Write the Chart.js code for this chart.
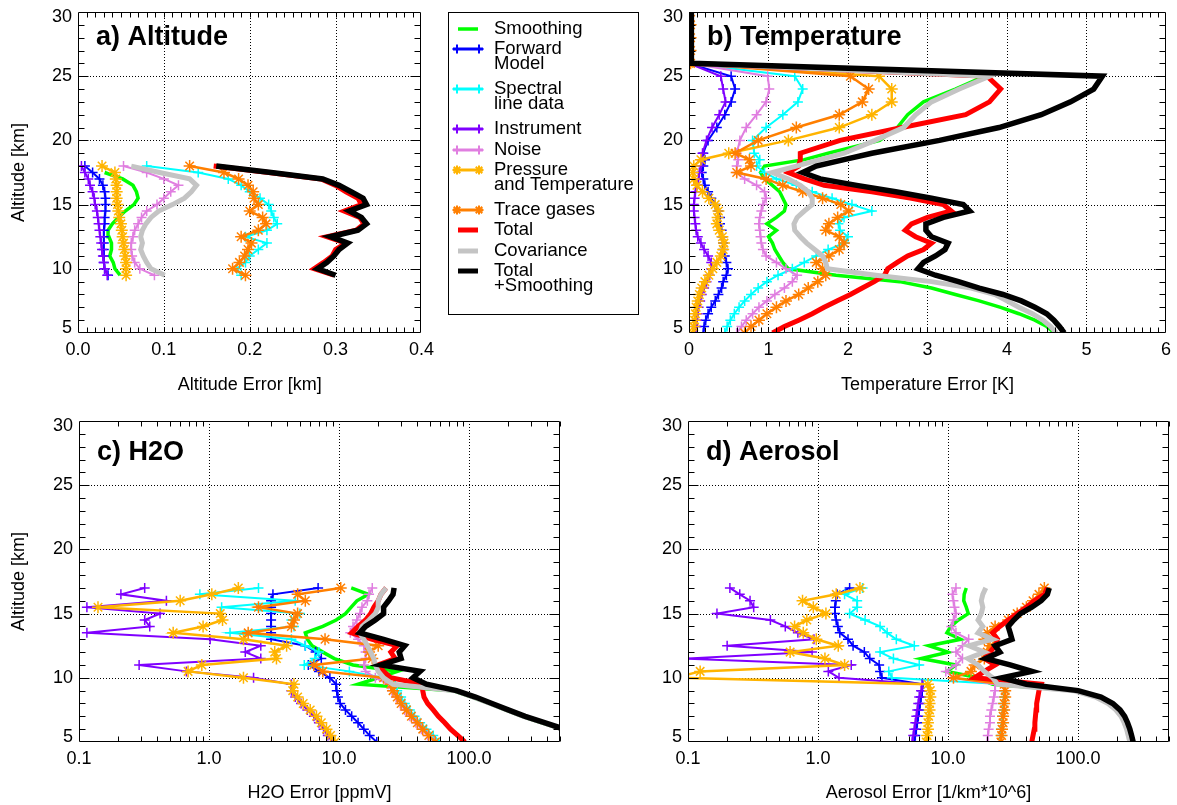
<!DOCTYPE html>
<html lang="en">
<head>
<meta charset="UTF-8">
<title>Error budget</title>
<script src="https://cdn.jsdelivr.net/npm/chart.js"></script>
<style>
  body { margin: 0; background: #fff; width: 1177px; height: 805px; position: relative; overflow: hidden; }
  canvas { position: absolute; }
</style>
</head>
<body>
<canvas id="chartA" width="440" height="400" style="left:0px;top:0px"></canvas>
<canvas id="legend" width="200" height="330" style="left:440px;top:0px"></canvas>
<canvas id="chartB" width="567" height="400" style="left:610px;top:0px"></canvas>
<canvas id="chartC" width="580" height="405" style="left:0px;top:400px"></canvas>
<canvas id="chartD" width="567" height="405" style="left:610px;top:400px"></canvas>

<script>
// ---- data (altitude in km, errors per source) ----
const legendText = [['Smoothing'], ['Forward', 'Model'], ['Spectral', 'line data'], ['Instrument'], ['Noise'],
  ['Pressure', 'and Temperature'], ['Trace gases'], ['Total'], ['Covariance'], ['Total', '+Smoothing']];

// a) altitude error [km]
const altA = [9.5, 10, 10.5, 11, 11.5, 12, 12.5, 13, 13.5, 14, 14.5, 15, 15.5, 16, 16.5, 17, 17.5, 18];
const smoothA = [0.049, 0.043, 0.041, 0.037, 0.039, 0.039, 0.036, 0.035, 0.040, 0.047, 0.055, 0.065, 0.070, 0.068, 0.064, 0.052, 0.031, null];
const fwdA = [0.035, 0.031, 0.030, 0.030, 0.030, 0.030, 0.030, 0.030, 0.031, 0.031, 0.032, 0.032, 0.032, 0.031, 0.029, 0.025, 0.017, 0.008];
const specA = [0.190, 0.185, 0.195, 0.200, 0.210, 0.220, 0.195, 0.220, 0.232, 0.228, 0.225, 0.222, 0.212, 0.200, 0.190, 0.175, 0.140, 0.080];
const instrA = [0.034, 0.031, 0.030, 0.029, 0.028, 0.027, 0.026, 0.025, 0.024, 0.023, 0.022, 0.020, 0.019, 0.017, 0.014, 0.012, 0.008, 0.004];
const noiseA = [0.089, 0.072, 0.066, 0.063, 0.062, 0.062, 0.064, 0.066, 0.070, 0.074, 0.080, 0.092, 0.100, 0.108, 0.117, 0.100, 0.080, 0.053];
const ptA = [0.056, 0.056, 0.056, 0.055, 0.054, 0.053, 0.052, 0.051, 0.050, 0.048, 0.047, 0.046, 0.045, 0.045, 0.045, 0.044, 0.043, 0.028];
const traceA = [0.195, 0.180, 0.188, 0.194, 0.198, 0.202, 0.190, 0.210, 0.219, 0.215, 0.200, 0.210, 0.205, 0.204, 0.198, 0.187, 0.170, 0.130];
const totalA = [0.298, 0.275, 0.286, 0.296, 0.300, 0.312, 0.290, 0.324, 0.333, 0.328, 0.310, 0.330, 0.326, 0.312, 0.300, 0.283, 0.222, 0.158];
const covA = [0.101, 0.085, 0.080, 0.076, 0.073, 0.075, 0.073, 0.075, 0.079, 0.085, 0.094, 0.110, 0.124, 0.132, 0.138, 0.130, 0.095, 0.062];
const totsmA = [0.300, 0.279, 0.290, 0.298, 0.304, 0.314, 0.294, 0.326, 0.336, 0.330, 0.316, 0.336, 0.332, 0.318, 0.304, 0.285, 0.225, 0.161];

// b) temperature error [K]
const altB = [5, 5.5, 6, 6.5, 7, 7.5, 8, 8.5, 9, 9.5, 10, 10.5, 11, 11.5, 12, 12.5, 13, 13.5, 14, 14.5,
  15, 15.5, 16, 16.5, 17, 17.5, 18, 18.5, 19, 20, 21, 22, 23, 24, 25, 26, 27, 28, 29, 30];
const smoothB = [4.60, 4.50, 4.35, 4.15, 3.92, 3.65, 3.35, 3.05, 2.65, 1.85, 1.25, 1.18, 1.13, 1.08, 1.05, 1.00, 1.10, 0.98, 1.10, 1.20,
  1.22, 1.18, 1.14, 1.05, 0.95, 0.90, 0.95, 1.45, 1.75, 2.40, 2.62, 2.75, 2.95, 3.35, 3.72, 0, null, null, null, null];
const fwdB = [0.18, 0.19, 0.21, 0.24, 0.28, 0.33, 0.37, 0.41, 0.43, 0.47, 0.49, 0.47, 0.45, 0.43, 0.43, 0.42, 0.41, 0.39, 0.39, 0.37,
  0.33, 0.28, 0.24, 0.20, 0.18, 0.16, 0.18, 0.20, 0.18, 0.24, 0.35, 0.45, 0.53, 0.58, 0.53, 0, null, null, null, null];
const specB = [0.45, 0.48, 0.52, 0.57, 0.63, 0.70, 0.78, 0.87, 0.98, 1.12, 1.30, 1.45, 1.60, 1.75, 1.95, 2.00, 1.90, 1.88, 1.95, 2.30,
  2.05, 1.80, 1.55, 1.35, 1.10, 0.95, 0.85, 0.89, 0.82, 0.80, 0.97, 1.18, 1.37, 1.43, 1.33, 0, null, null, null, null];
const instrB = [0.08, 0.09, 0.10, 0.11, 0.12, 0.14, 0.16, 0.19, 0.22, 0.26, 0.28, 0.28, 0.24, 0.19, 0.15, 0.11, 0.09, 0.08, 0.07, 0.06,
  0.06, 0.07, 0.08, 0.10, 0.12, 0.13, 0.15, 0.16, 0.17, 0.22, 0.29, 0.38, 0.46, 0.43, 0.40, 0, null, null, null, null];
const noiseB = [0.60, 0.66, 0.72, 0.80, 0.88, 0.98, 1.08, 1.20, 1.30, 1.36, 1.22, 1.10, 0.97, 0.93, 0.91, 0.90, 0.89, 0.88, 0.89, 0.91,
  0.93, 0.97, 0.95, 0.85, 0.70, 0.60, 0.60, 0.62, 0.60, 0.64, 0.72, 0.85, 0.97, 1.01, 0.99, 0, null, null, null, null];
const ptB = [0.05, 0.06, 0.07, 0.08, 0.09, 0.11, 0.13, 0.16, 0.20, 0.25, 0.30, 0.35, 0.40, 0.43, 0.44, 0.42, 0.38, 0.35, 0.36, 0.37,
  0.33, 0.25, 0.17, 0.10, 0.06, 0.05, 0.06, 0.15, 0.50, 1.25, 1.89, 2.30, 2.55, 2.55, 2.39, 0, null, null, null, null];
const traceB = [0.70, 0.78, 0.88, 0.98, 1.10, 1.22, 1.38, 1.50, 1.62, 1.72, 1.68, 1.60, 1.76, 1.89, 1.95, 1.89, 1.72, 1.76, 1.87, 2.01,
  1.91, 1.68, 1.43, 1.18, 0.97, 0.60, 0.78, 0.76, 0.58, 0.87, 1.35, 1.89, 2.18, 2.26, 2.03, 0.02, 0.02, 0.02, 0.02, 0.02];
const totalB = [1.05, 1.20, 1.38, 1.55, 1.70, 1.86, 2.03, 2.18, 2.33, 2.46, 2.50, 2.62, 2.75, 2.95, 3.05, 2.85, 2.72, 2.80, 3.00, 3.30,
  3.20, 2.80, 2.30, 1.70, 1.45, 1.25, 1.38, 1.40, 1.40, 1.90, 2.68, 3.48, 3.78, 3.92, 3.75, 0, null, null, null, null];
const covB = [4.62, 4.55, 4.45, 4.32, 4.15, 4.00, 3.85, 3.55, 3.05, 2.35, 1.74, 1.72, 1.68, 1.58, 1.48, 1.40, 1.33, 1.32, 1.36, 1.45,
  1.55, 1.55, 1.50, 1.40, 1.25, 1.05, 1.35, 1.65, 1.95, 2.34, 2.70, 2.85, 3.05, 3.40, 3.78, 0, null, null, null, null];
const totsmB = [4.72, 4.66, 4.59, 4.50, 4.35, 4.18, 3.95, 3.65, 3.39, 3.10, 2.88, 2.95, 3.10, 3.22, 3.26, 3.05, 2.98, 2.98, 3.20, 3.53,
  3.45, 3.05, 2.60, 2.11, 1.65, 1.43, 1.60, 1.95, 2.30, 3.15, 3.90, 4.43, 4.80, 5.09, 5.20, 0.03, 0.03, 0.03, 0.03, 0.03];

// c) H2O error [ppmV]
const altC = [5, 5.5, 6, 6.5, 7, 7.5, 8, 8.5, 9, 9.5, 10, 10.5, 11, 11.5, 12, 12.5, 13, 13.5, 14, 14.5, 15, 15.5, 16, 16.5, 17];
const smoothC = [960, 715, 515, 362, 256, 190, 142, 105, 75, 14, 20, 28, 12.8, 9.2, 7.5, 6.2, 5.7, 5.5, 7.5, 9.5, 11.2, 12.4, 13.7, 16.8, 12.4];
const fwdC = [19.5, 17.2, 15.5, 14, 12.5, 11.2, 10.2, 9.8, 9.6, 9.5, 8.5, 7.0, 5.8, 7.3, 6.6, 5.5, 3.0, 3.0, 3.0, 3.0, 3.0, 3.0, 3.0, 3.1, 6.9];
const specC = [60, 53, 47, 42, 38, 35, 32, 30, 28, 27, 22, 12, 5.4, 6.5, 7.0, 5.5, 4.3, 1.45, 4.5, 4.3, 5.0, 1.25, 4.6, 0.85, 2.4];
const instrC = [8.9, 8.2, 7.6, 7.0, 6.4, 5.7, 5.1, 4.6, 4.3, 4.3, 2.2, 0.67, 0.29, 2.5, 1.9, 2.5, 1.02, 0.115, 0.35, 0.32, 0.42, 0.115, 0.47, 0.21, 0.32];
const noiseC = [54, 48, 43, 39, 35, 32, 29.5, 27.5, 25.5, 24, 19, 16, 15.5, 16, 16, 15.5, 14, 12.2, 12.8, 13.7, 14.5, 15, 16.5, 17, 18];
const ptC = [9.3, 8.6, 8.0, 7.3, 6.7, 6.0, 5.3, 4.8, 4.4, 4.5, 1.84, 0.69, 0.88, 3.3, 3.2, 3.95, 1.84, 0.53, 0.90, 1.27, 1.22, 0.14, 0.60, 1.05, 1.68];
const traceC = [55, 49, 44, 40, 36, 33, 30, 28, 26, 25, 22, 7.5, 6.4, 18, 17, 20, 7.8, 2.0, 4.3, 4.5, 4.8, 2.4, 5.5, 4.8, 10.3];
const totalC = [93, 82, 72, 65, 58, 53, 48, 45, 44, 44, 25, 22, 20, 27, 25, 28, 18, 12.5, 14, 16, 17.5, 18.5, 20, 21, 23];
const covC = [980, 730, 525, 370, 262, 195, 145, 108, 78, 26, 22, 20, 19, 18.5, 17.5, 16.5, 15.5, 14.4, 15, 17, 19, 20, 20, 21, 23];
const totsmC = [1000, 750, 540, 380, 270, 200, 150, 112, 80, 47, 37, 42, 21, 30, 29, 32, 22, 14.4, 16, 19, 22, 22, 24, 26, 26.5];

// d) aerosol error [1/km*10^6]
const altD = [5, 5.5, 6, 6.5, 7, 7.5, 8, 8.5, 9, 9.5, 10, 10.5, 11, 11.5, 12, 12.5, 13, 13.5, 14, 14.5, 15, 15.5, 16, 16.5, 17];
const smoothD = [258, 250, 242, 232, 220, 200, 175, 140, 95, 22, 17, 9.8, 11.5, 6.2, 10, 7.1, 12.5, 9.8, 10.5, 12, 14.3, 13.8, 13.2, 13.3, 13.8];
const fwdD = [5.5, 5.6, 5.7, 5.8, 5.9, 6.0, 6.1, 6.2, 6.3, 6.4, 3.1, 3.0, 2.95, 2.5, 2.27, 1.86, 1.70, 1.47, 1.42, 1.38, 1.35, 1.35, 1.37, 1.40, 1.75];
const specD = [25, 25.5, 25.5, 26, 26, 26.5, 26.5, 27, 27, 27, 3.7, 3.5, 6.0, 3.8, 3.0, 5.5, 4.0, 3.4, 3.0, 2.3, 1.75, 2.0, 2.0, 1.6, 2.2];
const instrD = [5.3, 5.4, 5.5, 5.6, 5.7, 5.8, 5.9, 6.0, 6.2, 6.3, 1.45, 1.2, 1.8, 0.095, 0.90, 0.20, 0.93, 0.70, 0.56, 0.43, 0.167, 0.32, 0.30, 0.25, 0.21];
const noiseD = [20, 20.2, 20.5, 21, 21, 21.5, 22, 22.5, 23, 23, 11, 9.6, 11.5, 12.9, 11.5, 12.9, 14.4, 11.5, 10.6, 11.0, 11.5, 11.2, 11.0, 10.8, 11.5];
const ptD = [6.8, 6.9, 7.0, 7.0, 7.1, 7.2, 7.2, 7.3, 7.3, 7.0, 0.08, 0.124, 1.6, 1.13, 0.61, 1.43, 0.97, 0.77, 0.66, 0.82, 1.15, 0.92, 0.76, 1.38, 2.1];
const traceD = [25.5, 25.8, 26, 26.5, 26.5, 27, 27, 27.5, 27.5, 27, 11, 15, 16, 19, 20, 21, 19, 20, 23, 29, 34, 40, 45, 50, 55];
const totalD = [44, 45, 46, 46.5, 47, 47.5, 48, 49, 50, 52, 16, 19, 23, 19, 21, 23, 24, 22, 25, 29, 34, 40, 46, 55, 58];
const covD = [250, 243, 236, 226, 214, 195, 170, 136, 92, 24, 22, 19, 17, 14.2, 19, 14.5, 22, 17, 18.5, 17, 18, 18.5, 18, 18.5, 19.5];
const totsmD = [265, 258, 250, 240, 228, 210, 185, 150, 100, 40, 26, 44, 30, 19.5, 25, 23, 31, 30, 29, 32, 36, 44, 52, 58, 60];

const altTicks = [5, 10, 15, 20, 25, 30];
const logTickVals = [0.1, 1, 10, 100];
const logTickLabels = ['0.1', '1.0', '10.0', '100.0'];

// ---- styles ----
const FONT = "'Liberation Sans', Arial, Helvetica, sans-serif";
const looks = [
  { color: '#00ff00', width: 3.5, marker: null, r: 0 },
  { color: '#0000ff', width: 2, marker: 'cross', r: 5 },
  { color: '#00ffff', width: 2, marker: 'cross', r: 5 },
  { color: '#7f00ff', width: 2, marker: 'cross', r: 5 },
  { color: '#e07ee0', width: 2, marker: 'cross', r: 5 },
  { color: '#ffb400', width: 2.5, marker: 'star', r: 6 },
  { color: '#ff7f00', width: 2.5, marker: 'star', r: 6 },
  { color: '#ff0000', width: 5, marker: null, r: 0 },
  { color: '#c4c4c4', width: 5, marker: null, r: 0 },
  { color: '#000000', width: 5.5, marker: null, r: 0 }
];

function makeDatasets(alt, cols) {
  return cols.map((vals, i) => ({
    label: legendText[i].join(' '),
    data: alt.map((a, k) => ({ x: vals[k], y: a })).filter(p => p.x !== null),
    showLine: true,
    borderColor: looks[i].color,
    backgroundColor: looks[i].color,
    borderWidth: looks[i].width,
    pointStyle: looks[i].marker || 'circle',
    pointRadius: looks[i].r,
    pointBorderColor: looks[i].color,
    pointBorderWidth: 1.5,
    order: cols.length - i
  }));
}

// per-panel frame info (grid lines, minor ticks, panel title)
const frames = {};

const framePlugin = {
  id: 'frame',
  beforeDatasetsDraw(chart) {
    const f = frames[chart.canvas.id];
    const { ctx, chartArea: a } = chart;
    const sx = chart.scales.x, sy = chart.scales.y;
    ctx.save();
    ctx.strokeStyle = '#000';
    ctx.lineWidth = 1;
    ctx.setLineDash([1, 2]);
    ctx.beginPath();
    f.xGrid.forEach(v => {
      const p = Math.round(sx.getPixelForValue(v)) + 0.5;
      ctx.moveTo(p, a.top); ctx.lineTo(p, a.bottom);
    });
    [10, 15, 20, 25].forEach(v => {
      const p = Math.round(sy.getPixelForValue(v)) + 0.5;
      ctx.moveTo(a.left, p); ctx.lineTo(a.right, p);
    });
    ctx.stroke();
    ctx.restore();
  },
  afterDatasetsDraw(chart) {
    const f = frames[chart.canvas.id];
    const { ctx, chartArea: a } = chart;
    const sx = chart.scales.x, sy = chart.scales.y;
    const L = Math.round(a.left) + 0.5, R = Math.round(a.right) - 0.5;
    const T = Math.round(a.top) + 0.5, B = Math.round(a.bottom) - 0.5;
    ctx.save();
    ctx.strokeStyle = '#000';
    ctx.lineWidth = 1;
    ctx.beginPath();
    ctx.rect(L, T, R - L, B - T);
    for (let km = 6; km < 30; km++) {
      const p = Math.round(sy.getPixelForValue(km)) + 0.5;
      const len = km % 5 === 0 ? 10 : 6;
      ctx.moveTo(L, p); ctx.lineTo(L + len, p);
      ctx.moveTo(R, p); ctx.lineTo(R - len, p);
    }
    f.xMinor.forEach(v => {
      const p = Math.round(sx.getPixelForValue(v)) + 0.5;
      ctx.moveTo(p, B); ctx.lineTo(p, B - 5);
      ctx.moveTo(p, T); ctx.lineTo(p, T + 5);
    });
    ctx.stroke();

    // altitude tick labels, end labels nudged inside like the original plot
    ctx.fillStyle = '#000';
    ctx.font = '18px ' + FONT;
    ctx.textAlign = 'right';
    ctx.textBaseline = 'middle';
    altTicks.forEach(v => {
      let p = sy.getPixelForValue(v);
      if (v === 30) p += 5;
      if (v === 5) p -= 5;
      ctx.fillText(String(v), a.left - 6, p);
    });

    ctx.textAlign = 'left';
    ctx.textBaseline = 'alphabetic';
    ctx.font = 'bold 27px ' + FONT;
    ctx.fillText(f.title, a.left + 18, a.top + f.titleDy);
    ctx.restore();
  }
};

function drawPanel(id, alt, cols, cfg) {
  const tickFont = { family: FONT, size: 18 };
  const xScale = {
    type: cfg.log ? 'logarithmic' : 'linear',
    min: cfg.xMin,
    max: cfg.xMax,
    grid: { display: false, drawTicks: false },
    border: { display: false },
    ticks: {
      font: tickFont, color: '#000', padding: 6, autoSkip: false, maxRotation: 0,
      stepSize: cfg.step,
      callback: cfg.log ? (v, i) => logTickLabels[i] : v => v.toFixed(cfg.digits)
    },
    title: { display: true, text: cfg.xTitle, font: tickFont, color: '#000', padding: { top: 0, bottom: cfg.xTitlePad } },
    afterFit: s => { s.height = cfg.xHeight; }
  };
  if (cfg.log) xScale.afterBuildTicks = s => { s.ticks = logTickVals.map(v => ({ value: v })); };

  new Chart(document.getElementById(id), {
    type: 'scatter',
    data: { datasets: makeDatasets(alt, cols) },
    options: {
      responsive: false,
      animation: false,
      devicePixelRatio: 1,
      layout: { padding: { top: cfg.padTop, right: cfg.padRight, left: 0, bottom: 0 } },
      plugins: { legend: { display: false }, tooltip: { enabled: false } },
      scales: {
        x: xScale,
        y: {
          type: 'linear', min: 5, max: 30,
          grid: { display: false, drawTicks: false },
          border: { display: false },
          afterBuildTicks: s => { s.ticks = altTicks.map(v => ({ value: v })); },
          ticks: { display: false },
          title: { display: cfg.yTitle, text: 'Altitude [km]', font: tickFont, color: '#000', padding: { top: 8, bottom: 0 } },
          afterFit: s => { s.width = cfg.yWidth; }
        }
      }
    },
    plugins: [framePlugin]
  });
}

function range(a, b, step) {
  const out = [];
  for (let v = a; v <= b + 1e-9; v += step) out.push(+v.toFixed(4));
  return out;
}
const logMinor = [];
[0.1, 1, 10, 100].forEach(d => { for (let m = 2; m <= 9; m++) if (m * d <= 500) logMinor.push(m * d); });

frames.chartA = { title: 'a) Altitude', titleDy: 33, xGrid: [0.1, 0.2, 0.3], xMinor: range(0.01, 0.39, 0.01) };
frames.chartB = { title: 'b) Temperature', titleDy: 33, xGrid: [1, 2, 3, 4, 5], xMinor: range(0.1, 5.9, 0.1) };
frames.chartC = { title: 'c) H2O', titleDy: 39, xGrid: [1, 10, 100], xMinor: logMinor };
frames.chartD = { title: 'd) Aerosol', titleDy: 39, xGrid: [1, 10, 100], xMinor: logMinor };

drawPanel('chartA', altA, [smoothA, fwdA, specA, instrA, noiseA, ptA, traceA, totalA, covA, totsmA], {
  xMin: 0, xMax: 0.4, step: 0.1, digits: 1, xTitle: 'Altitude Error [km]',
  yTitle: true, yWidth: 78, xHeight: 67, padTop: 12, padRight: 17, xTitlePad: 4
});
drawPanel('chartB', altB, [smoothB, fwdB, specB, instrB, noiseB, ptB, traceB, totalB, covB, totsmB], {
  xMin: 0, xMax: 6, step: 1, digits: 0, xTitle: 'Temperature Error [K]',
  yTitle: false, yWidth: 79, xHeight: 67, padTop: 12, padRight: 8, xTitlePad: 4
});
drawPanel('chartC', altC, [smoothC, fwdC, specC, instrC, noiseC, ptC, traceC, totalC, covC, totsmC], {
  log: true, xMin: 0.1, xMax: 500, xTitle: 'H2O Error [ppmV]',
  yTitle: true, yWidth: 79, xHeight: 63, padTop: 21, padRight: 20, xTitlePad: 1
});
drawPanel('chartD', altD, [smoothD, fwdD, specD, instrD, noiseD, ptD, traceD, totalD, covD, totsmD], {
  log: true, xMin: 0.1, xMax: 500, xTitle: 'Aerosol Error [1/km*10^6]',
  yTitle: false, yWidth: 78, xHeight: 63, padTop: 21, padRight: 8, xTitlePad: 1
});

// ---- legend box ----
const lg = document.getElementById('legend').getContext('2d');
lg.strokeStyle = '#000';
lg.lineWidth = 1;
lg.strokeRect(8.5, 12.5, 190, 302);
const rowY = [29, 49, 89, 129, 150, 170, 210, 230, 251, 271];
function legendMarker(x, y, s) {
  const r = 4.5;
  lg.beginPath();
  lg.moveTo(x - r, y); lg.lineTo(x + r, y);
  lg.moveTo(x, y - r); lg.lineTo(x, y + r);
  if (s.marker === 'star') {
    const d = r * 0.72;
    lg.moveTo(x - d, y - d); lg.lineTo(x + d, y + d);
    lg.moveTo(x - d, y + d); lg.lineTo(x + d, y - d);
  }
  lg.stroke();
}
legendText.forEach((lines, i) => {
  const s = looks[i];
  const y = rowY[i];
  lg.strokeStyle = s.color;
  lg.lineWidth = s.marker ? 3 : Math.min(s.width, 5);
  lg.beginPath();
  if (s.marker) { lg.moveTo(13, y); lg.lineTo(43, y); } else { lg.moveTo(18, y); lg.lineTo(38, y); }
  lg.stroke();
  if (s.marker) {
    lg.lineWidth = 2;
    legendMarker(17, y, s);
    legendMarker(39, y, s);
  }
  lg.fillStyle = '#000';
  lg.font = '18.5px ' + FONT;
  lg.textBaseline = 'middle';
  lines.forEach((t, j) => lg.fillText(t, 54, y + j * 15));
});
</script>
</body>
</html>
